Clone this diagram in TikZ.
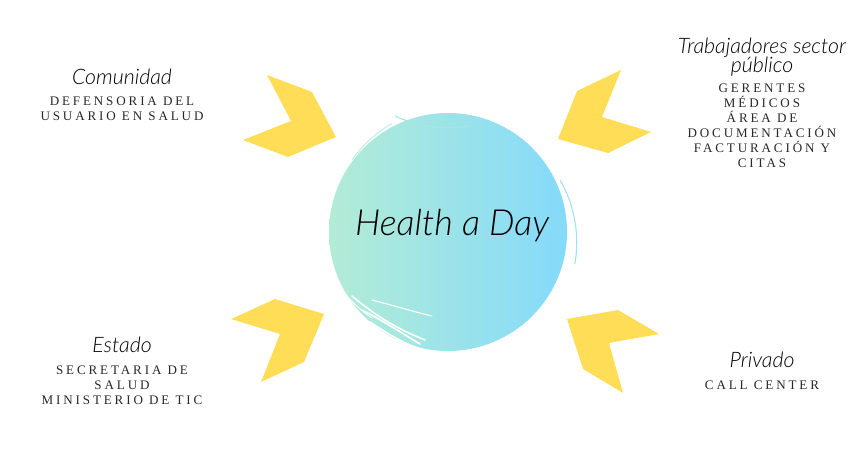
\documentclass[tikz,border=0pt]{standalone}
\usepackage{fontspec}
\setmainfont{Liberation Serif}
\newfontfamily\hfont{Lato}[ItalicFont={Lato Light Italic}]
\newfontfamily\capsfont{Liberation Serif}[LetterSpace=22]
\definecolor{chev}{RGB}{255,221,87}
\definecolor{mint}{RGB}{179,236,214}
\definecolor{sky}{RGB}{133,218,250}
\definecolor{txt}{RGB}{40,40,40}
\tikzset{
  chevron/.style={fill=chev, draw=none},
  head/.style={font=\hfont\itshape\fontsize{16}{12}\selectfont, text=black, align=center, inner sep=0pt},
  caps/.style={font=\capsfont\fontsize{9.8}{11.3}\selectfont, text=txt, align=center, inner sep=0pt},
  brush/.style={draw=white, line width=1.2pt, line cap=round},
}
\begin{document}
\begin{tikzpicture}[x=0.75pt, y=-0.75pt]
\useasboundingbox (0,0) rectangle (864,459);
% chevrons
\fill[chevron] (267,75) -- (312,92) -- (336,137) -- (288,157) -- (243,140) -- (291,121) -- cycle;
\fill[chevron] (621,70) -- (577,91) -- (558,139) -- (608,153) -- (651,132) -- (602,117) -- cycle;
\fill[chevron] (231,319) -- (275,299) -- (324,314) -- (304,362) -- (261,382) -- (280,334) -- cycle;
\fill[chevron] (567,319) -- (618,310) -- (659,334) -- (609,343) -- (623,393) -- (583,369) -- cycle;
% central circle
\shade[left color=mint, right color=sky] (448,232) circle [radius=119];
\node[circle, minimum size=238*0.75pt, inner sep=0pt] (c) at (448,232) {};
% brush strokes (texture)
\draw[mint!80, line width=0.8pt] (352,160) arc[start angle=215, end angle=240, radius=125];
\draw[sky!80, line width=0.8pt] (560,180) arc[start angle=-30, end angle=10, radius=125];
\draw[mint!70!sky, line width=0.8pt] (395,116) arc[start angle=115, end angle=80, radius=125];
\draw[brush] (352,296) .. controls (378,318) and (400,330) .. (425,340);
\draw[brush] (362,310) .. controls (385,322) and (400,332) .. (420,344);
\draw[brush, line width=0.8pt] (372,300) .. controls (395,306) and (415,312) .. (432,316);
\draw[brush] (370,322) .. controls (390,335) and (405,345) .. (430,352);
\draw[brush, line width=0.6pt] (340,288) .. controls (350,300) and (360,310) .. (372,318);
\node[font=\hfont\itshape\fontsize{27}{30}\selectfont, text=black] (title) at (452,226) {Health a Day};
% labels
\node[head] (comh) at (122,77) {Comunidad};
\node[caps] (comt) at (122,109) {DEFENSORIA DEL\\USUARIO EN SALUD};
\node[head] (trah) at (762,57) {Trabajadores sector\\[-1pt]público};
\node[caps] (trat) at (762,126) {GERENTES\\MÉDICOS\\ÁREA DE\\DOCUMENTACIÓN\\FACTURACIÓN Y\\CITAS};
\node[head] (esth) at (122,345) {Estado};
\node[caps] (estt) at (122,385) {SECRETARIA DE\\SALUD\\MINISTERIO DE TIC};
\node[head] (prih) at (762,360) {Privado};
\node[caps] (prit) at (762,385) {CALL CENTER};
\end{tikzpicture}
\end{document}
